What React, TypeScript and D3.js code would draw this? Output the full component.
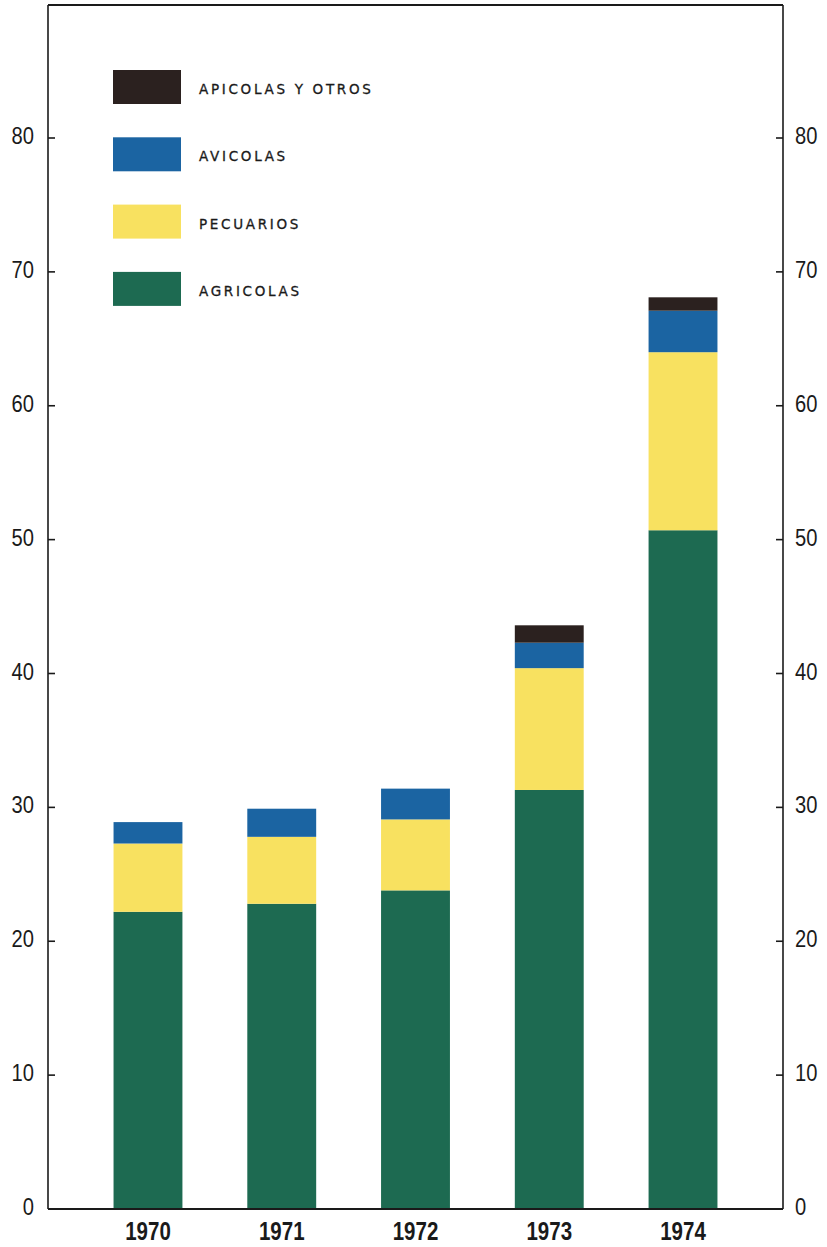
import React from "react";
import * as d3 from "d3";

const years = ["1970", "1971", "1972", "1973", "1974"];
const agricolas = [22.2, 22.8, 23.8, 31.3, 50.7];
const pecuarios = [5.1, 5.0, 5.3, 9.1, 13.3];
const avicolas = [1.6, 2.1, 2.3, 1.9, 3.1];
const apicolas = [0, 0, 0, 1.3, 1.0];
const yTicks = [0, 10, 20, 30, 40, 50, 60, 70, 80];

const seriesKeys = ["agricolas", "pecuarios", "avicolas", "apicolas"];
const seriesLabels: Record<string, string> = {
  apicolas: "APICOLAS Y OTROS",
  avicolas: "AVICOLAS",
  pecuarios: "PECUARIOS",
  agricolas: "AGRICOLAS",
};
const legendOrder = ["apicolas", "avicolas", "pecuarios", "agricolas"];
const colors: Record<string, string> = {
  agricolas: "#1d6a51",
  pecuarios: "#f8e160",
  avicolas: "#1b64a2",
  apicolas: "#2b211f",
};

const W = 827;
const H = 1247;
const left = 48;
const right = 783;
const top = 5;
const bottom = 1209;

export default function App() {
  const table = years.map((y, i) => ({
    year: y,
    agricolas: agricolas[i],
    pecuarios: pecuarios[i],
    avicolas: avicolas[i],
    apicolas: apicolas[i],
  }));
  const stacked = d3.stack<any>().keys(seriesKeys)(table);

  const x = d3.scaleBand().domain(years).range([left, right]).paddingInner(0.485).paddingOuter(0.49);
  const y = d3.scaleLinear().domain([0, 80]).range([bottom, 138]);

  const numFont = "'Liberation Sans', Arial, sans-serif";

  return (
    <svg
      width={W}
      height={H}
      style={{ position: "absolute", left: 0, top: 0, background: "#fff" }}
    >
      <rect x={0} y={0} width={W} height={H} fill="#fff" />
      {/* bars */}
      {stacked.map((s) => (
        <g key={s.key} fill={colors[s.key]}>
          {s.map((d, i) =>
            d[1] - d[0] > 0 ? (
              <rect
                key={i}
                x={x(years[i])!}
                width={x.bandwidth()}
                y={y(d[1])}
                height={y(d[0]) - y(d[1])}
              />
            ) : null
          )}
        </g>
      ))}
      {/* frame */}
      <line x1={left} x2={right} y1={top} y2={top} stroke="#1a1a1a" strokeWidth={2} />
      <line x1={left} x2={left} y1={top} y2={bottom} stroke="#1a1a1a" strokeWidth={1.6} />
      <line x1={right} x2={right} y1={top} y2={bottom} stroke="#1a1a1a" strokeWidth={1.6} />
      <line x1={left} x2={right} y1={bottom} y2={bottom} stroke="#1a1a1a" strokeWidth={2} />
      {/* ticks and labels */}
      {yTicks.map((t) => (
        <g key={t}>
          {t > 0 && (
            <>
              <line x1={left} x2={left + 7} y1={y(t)} y2={y(t)} stroke="#1a1a1a" strokeWidth={1.6} />
              <line x1={right - 7} x2={right} y1={y(t)} y2={y(t)} stroke="#1a1a1a" strokeWidth={1.6} />
            </>
          )}
          <text
            transform={`translate(34, ${y(t) + 6}) scale(0.84, 1)`}
            textAnchor="end"
            fontFamily={numFont}
            fontSize={24}
            fill="#1a1a1a"
          >
            {t}
          </text>
          <text
            transform={`translate(795, ${y(t) + 6}) scale(0.84, 1)`}
            textAnchor="start"
            fontFamily={numFont}
            fontSize={24}
            fill="#1a1a1a"
          >
            {t}
          </text>
        </g>
      ))}
      {years.map((yr) => (
        <text
          key={yr}
          transform={`translate(${x(yr)! + x.bandwidth() / 2}, 1240) scale(0.82, 1)`}
          textAnchor="middle"
          fontFamily={numFont}
          fontWeight="bold"
          fontSize={25}
          fill="#1a1a1a"
        >
          {yr}
        </text>
      ))}
      {/* legend */}
      {legendOrder.map((k, i) => (
        <g key={k} transform={`translate(0, ${70 + i * 67.3})`}>
          <rect x={113} y={0} width={68} height={34} fill={colors[k]} />
          <text
            x={199}
            y={24}
            fontFamily="'DejaVu Sans', sans-serif"
            fontSize={13.5}
            letterSpacing={2.7}
            fill="#1a1a1a"
            stroke="#1a1a1a"
            strokeWidth={0.3}
          >
            {seriesLabels[k]}
          </text>
        </g>
      ))}
    </svg>
  );
}
